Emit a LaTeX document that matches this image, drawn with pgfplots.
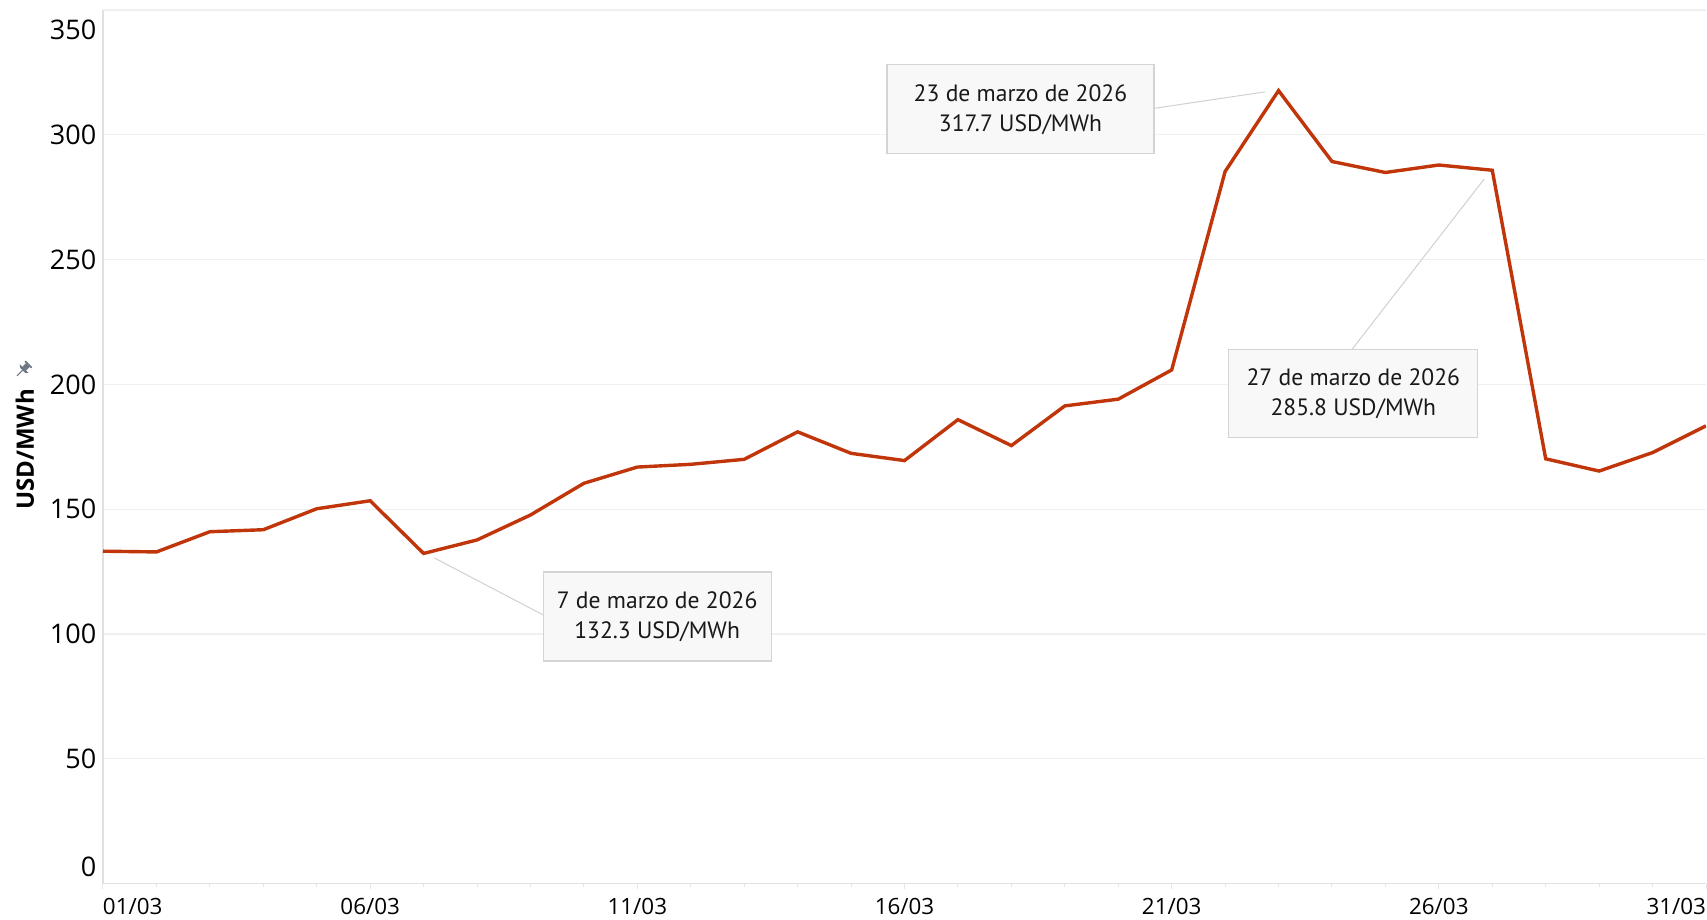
\documentclass[border=0pt]{standalone}
\usepackage{pgfplots}
\usepackage{pgfplotstable}
\pgfplotsset{compat=1.18}
\usepackage{fontspec}
\setmainfont{Open Sans}
\newfontfamily\notefont{PT Sans}

\definecolor{priceline}{RGB}{192,54,10}
\definecolor{notefill}{RGB}{248,248,248}
\definecolor{noteedge}{RGB}{212,212,212}
\definecolor{leader}{RGB}{208,208,208}
\definecolor{inkdark}{RGB}{25,25,25}
\definecolor{pincol}{RGB}{110,118,130}

% Daily wholesale price, March 2026 (USD/MWh)
\pgfplotstableread{
day value
1 133.2
2 132.9
3 141.0
4 141.8
5 150.2
6 153.4
7 132.3
8 137.7
9 147.7
10 160.4
11 166.9
12 168.0
13 170.0
14 181.0
15 172.4
16 169.5
17 185.9
18 175.5
19 191.4
20 194.1
21 205.8
22 285.3
23 317.7
24 289.3
25 284.9
26 287.9
27 285.8
28 170.2
29 165.3
30 172.7
31 183.4
}\prices

\tikzset{note/.style={draw=noteedge, fill=notefill, line width=0.6pt,
  align=center, inner sep=0pt, text=inkdark,
  font=\notefont\fontsize{11.8}{15}\selectfont}}

\begin{document}
\begin{tikzpicture}
\useasboundingbox (-51.5pt,-18.15pt) rectangle (802pt,441.85pt);
\begin{axis}[
  at={(0,0)}, anchor=south west,
  scale only axis, width=801.5pt, height=436.85pt,
  xmin=1, xmax=31, ymin=0, ymax=350,
  axis x line*=bottom, axis y line*=left,
  axis line style={draw=black!12, line width=0.6pt},
  xtick={1,6,...,31}, minor xtick={1,...,31},
  xticklabels={\makebox[0pt][l]{01/03},06/03,11/03,16/03,21/03,26/03,\makebox[0pt][r]{31/03}},
  ytick={0,50,...,350},
  yticklabels={\raisebox{8.5pt}[\height][\depth]{0},50,100,150,200,250,300,\raisebox{-10pt}[\height][\depth]{350}},
  tick align=outside,
  major tick length=2.5pt, minor tick length=1.5pt,
  xtick style={draw=black!10, line width=0.5pt},
  ytick style={draw=none},
  ymajorgrids,
  major grid style={draw=black!6, line width=0.6pt},
  xticklabel style={font=\fontsize{11.2}{13}\selectfont, text=black, anchor=north, inner sep=0pt, yshift=-4.8pt},
  yticklabel style={font=\fontsize{13.5}{16}\selectfont, text=black, anchor=east, inner sep=0pt, xshift=-0.7pt},
  ylabel={\textbf{USD/MWh}},
  ylabel style={at={(axis description cs:-0.0487,0.497)}, anchor=center,
    font=\fontsize{12}{14}\selectfont, text=black},
]
\addplot[priceline, line width=1.7pt, line join=miter] table[x=day, y=value] {\prices};

% callouts
\draw[leader, line width=0.5pt] (axis cs:20.67,310.6) -- (axis cs:22.75,317.2);
\node[note, minimum width=133.5pt, minimum height=44.5pt] at (axis cs:18.17,310.2)
  {23 de marzo de 2026\\317.7 USD/MWh};

\draw[leader, line width=0.5pt] (axis cs:7.20,130.5) -- (axis cs:9.235,107.7);
\node[note, minimum width=114pt, minimum height=44.5pt] at (axis cs:11.37,107.05)
  {7 de marzo de 2026\\132.3 USD/MWh};

\draw[leader, line width=0.5pt] (axis cs:26.85,282.3) -- (axis cs:24.38,214.2);
\node[note, minimum width=124.5pt, minimum height=44.2pt] at (axis cs:24.40,196.4)
  {27 de marzo de 2026\\285.8 USD/MWh};
\end{axis}

% pinned-axis marker beside the axis title
\begin{scope}[shift={(-40.5pt,256.4pt)}, rotate=-45, scale=1.35, pincol]
  \fill (-1.0pt,1.2pt) rectangle (1.0pt,3.0pt);
  \fill (-1.7pt,3.0pt) rectangle (1.7pt,3.7pt);
  \fill (-2.3pt,1.2pt) -- (2.3pt,1.2pt) -- (1.3pt,0.3pt) -- (-1.3pt,0.3pt) -- cycle;
  \draw[line width=0.6pt] (0,0.3pt) -- (0,-2.6pt);
\end{scope}
\end{tikzpicture}
\end{document}
